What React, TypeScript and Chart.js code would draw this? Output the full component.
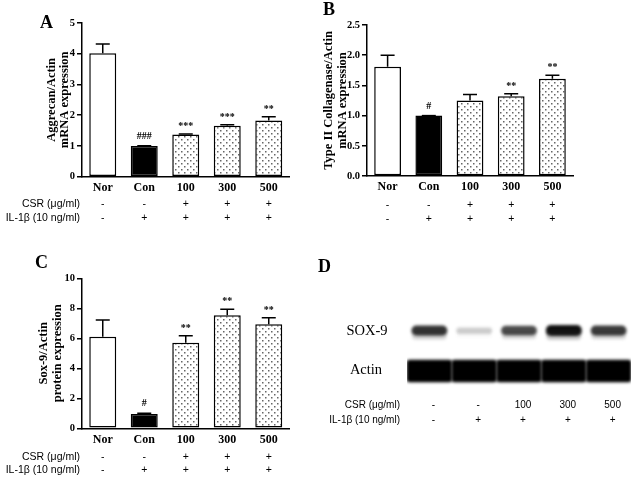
import React, { useEffect, useRef } from 'react';
import { Chart, registerables } from 'chart.js';

Chart.register(...registerables);

const SERIF = '"Liberation Serif", "Times New Roman", serif';
const SANS = '"Liberation Sans", Arial, sans-serif';

// ---- data ----
const groups = ['Nor', 'Con', '100', '300', '500'];
const csrSigns = ['-', '-', '+', '+', '+'];
const ilSigns = ['-', '+', '+', '+', '+'];

const aggrecanMean = [4.02, 1.0, 1.37, 1.66, 1.83];
const aggrecanSem = [0.3, 0.01, 0.02, 0.03, 0.12];
const aggrecanSig = ['', '###', '***', '***', '**'];

const col2Mean = [1.81, 1.0, 1.25, 1.32, 1.61];
const col2Sem = [0.19, 0.0, 0.1, 0.04, 0.06];
const col2Sig = ['', '#', '', '**', '**'];

const sox9Mean = [6.1, 0.95, 5.7, 7.53, 6.93];
const sox9Sem = [1.12, 0.05, 0.47, 0.4, 0.44];
const sox9Sig = ['', '#', '**', '**', '**'];

const blotCsr = ['-', '-', '100', '300', '500'];
const blotIl = ['-', '+', '+', '+', '+'];
const sox9Band = [0.85, 0.2, 0.75, 1.0, 0.82];
const actinBand = [1, 1, 1, 1, 1];

function makeDots(): CanvasPattern | string {
  const c = document.createElement('canvas');
  c.width = 6;
  c.height = 6;
  const g = c.getContext('2d');
  if (!g) return '#ddd';
  g.fillStyle = '#fff';
  g.fillRect(0, 0, 6, 6);
  g.fillStyle = '#666';
  g.fillRect(1, 1, 1.5, 1.5);
  g.fillRect(4, 4, 1.5, 1.5);
  return g.createPattern(c, 'repeat') || '#ddd';
}

type BarCfg = {
  padTop: number;
  padRight: number;
  yWidth: number;
  xHeight: number;
  max: number;
  step: number;
  decimals: number;
  mean: number[];
  sem: number[];
  sig: string[];
  title: string[];
  titlePad: number;
  letter: string;
  letterX: number;
  letterY: number;
  rowY: [number, number];
  rowLabels: boolean;
};

function barConfig(cfg: BarCfg): any {
  const dots = makeDots();
  const annot = {
    id: 'annot',
    afterDatasetsDraw(chart: any) {
      const ctx = chart.ctx;
      const ys = chart.scales.y;
      const meta = chart.getDatasetMeta(0);
      ctx.save();
      ctx.strokeStyle = '#000';
      ctx.lineWidth = 1.5;
      ctx.fillStyle = '#000';
      cfg.mean.forEach((v, i) => {
        const x = meta.data[i].x;
        const y0 = ys.getPixelForValue(v);
        const y1 = ys.getPixelForValue(v + cfg.sem[i]);
        ctx.beginPath();
        ctx.moveTo(x, y0);
        ctx.lineTo(x, y1);
        ctx.moveTo(x - 7, y1);
        ctx.lineTo(x + 7, y1);
        ctx.stroke();
        const s = cfg.sig[i];
        if (s) {
          ctx.font = `bold 10px ${SERIF}`;
          ctx.textAlign = 'center';
          ctx.textBaseline = 'alphabetic';
          const off = s[0] === '#' ? 7 : 5;
          ctx.fillText(s, x, y1 - off);
        }
      });
      ctx.restore();
    },
    afterDraw(chart: any) {
      const ctx = chart.ctx;
      const xs = chart.scales.x;
      ctx.save();
      ctx.fillStyle = '#000';
      ctx.font = `bold 18px ${SERIF}`;
      ctx.textAlign = 'left';
      ctx.textBaseline = 'alphabetic';
      ctx.fillText(cfg.letter, cfg.letterX, cfg.letterY);
      ctx.font = `10.5px ${SANS}`;
      ctx.textAlign = 'center';
      ctx.textBaseline = 'middle';
      groups.forEach((_, i) => {
        const x = xs.getPixelForValue(i);
        ctx.fillText(csrSigns[i], x, cfg.rowY[0]);
        ctx.fillText(ilSigns[i], x, cfg.rowY[1]);
      });
      if (cfg.rowLabels) {
        ctx.textAlign = 'right';
        ctx.fillText('CSR (\u03bcg/ml)', 80, cfg.rowY[0]);
        ctx.fillText('IL-1\u03b2 (10 ng/ml)', 80, cfg.rowY[1]);
      }
      ctx.restore();
    },
  };
  return {
    type: 'bar',
    data: {
      labels: groups,
      datasets: [
        {
          data: cfg.mean,
          backgroundColor: ['#fff', '#000', dots, dots, dots],
          borderColor: '#000',
          borderWidth: 1.5,
          borderSkipped: false,
          barPercentage: 0.65,
          categoryPercentage: 1.0,
        },
      ],
    },
    options: {
      responsive: true,
      maintainAspectRatio: false,
      animation: false,
      layout: { padding: { top: cfg.padTop, right: cfg.padRight, left: 0, bottom: 0 } },
      plugins: { legend: { display: false }, tooltip: { enabled: false } },
      scales: {
        x: {
          offset: true,
          grid: { display: true, drawOnChartArea: false, drawTicks: false },
          border: { display: true, color: '#000', width: 1.5 },
          ticks: {
            color: '#000',
            font: { family: SERIF, weight: 'bold', size: 12 },
            padding: 4,
            maxRotation: 0,
            autoSkip: false,
          },
          afterFit: (s: any) => {
            s.height = cfg.xHeight;
          },
        },
        y: {
          min: 0,
          max: cfg.max,
          grid: {
            display: true,
            drawOnChartArea: false,
            drawTicks: true,
            tickLength: 5,
            color: '#000',
            lineWidth: 1.5,
          },
          border: { display: true, color: '#000', width: 1.5 },
          ticks: {
            stepSize: cfg.step,
            color: '#000',
            font: { family: SERIF, weight: 'bold', size: 10.5 },
            padding: 2,
            callback: (v: any) => Number(v).toFixed(cfg.decimals),
          },
          title: {
            display: true,
            text: cfg.title,
            color: '#000',
            font: { family: SERIF, weight: 'bold', size: 12.5, lineHeight: 1.08 },
            padding: { top: cfg.titlePad, bottom: 0 },
          },
          afterFit: (s: any) => {
            s.width = cfg.yWidth;
          },
        },
      },
    },
    plugins: [annot],
  };
}

function blotConfig(): any {
  const blur = {
    id: 'blur',
    beforeDatasetsDraw(chart: any) {
      chart.ctx.save();
      chart.ctx.filter = 'blur(1.6px)';
    },
    afterDatasetsDraw(chart: any) {
      chart.ctx.restore();
    },
  };
  const text = {
    id: 'blotText',
    afterDraw(chart: any) {
      const ctx = chart.ctx;
      const xs = chart.scales.x;
      const ys = chart.scales.y;
      ctx.save();
      ctx.fillStyle = '#000';
      ctx.font = `bold 18px ${SERIF}`;
      ctx.textAlign = 'left';
      ctx.textBaseline = 'alphabetic';
      ctx.fillText('D', 8, 32);
      ctx.font = `14.5px ${SERIF}`;
      ctx.textAlign = 'center';
      ctx.textBaseline = 'middle';
      ctx.fillText('SOX-9', 57, ys.getPixelForValue(69));
      ctx.fillText('Actin', 56, ys.getPixelForValue(30));
      ctx.font = `10px ${SANS}`;
      ctx.textAlign = 'right';
      ctx.fillText('CSR (\u03bcg/ml)', 90, 165);
      ctx.fillText('IL-1\u03b2 (10 ng/ml)', 90, 180);
      ctx.textAlign = 'center';
      blotCsr.forEach((t, i) => {
        const x = xs.getPixelForValue(i) + 4;
        ctx.fillText(t, x, 165);
        ctx.fillText(blotIl[i], x, 180);
      });
      ctx.restore();
    },
  };
  return {
    type: 'bar',
    data: {
      labels: blotCsr.map((_, i) => String(i)),
      datasets: [
        {
          label: 'SOX-9 smear',
          data: sox9Band.map((v) => [69 - (5 + 4 * v), 69]),
          backgroundColor: sox9Band.map((v) => `rgba(40,40,40,${0.25 * v})`),
          borderWidth: 0,
          borderRadius: 4,
          borderSkipped: false,
          barPercentage: 0.78,
          categoryPercentage: 1.0,
          grouped: false,
        },
        {
          label: 'SOX-9',
          data: sox9Band.map((v) => [69 - (2 + 3 * v), 69 + (3 + 3 * v)]),
          backgroundColor: sox9Band.map((v) => `rgba(15,15,15,${v})`),
          borderWidth: 0,
          borderRadius: 5,
          borderSkipped: false,
          barPercentage: 0.8,
          categoryPercentage: 1.0,
          grouped: false,
        },
        {
          label: 'Actin',
          data: actinBand.map((v) => [29 - 11 * v, 29 + 11 * v]),
          backgroundColor: actinBand.map((v) => `rgba(0,0,0,${v})`),
          borderWidth: 0,
          borderRadius: 3,
          borderSkipped: false,
          barPercentage: 1.0,
          categoryPercentage: 1.0,
          grouped: false,
        },
      ],
    },
    options: {
      responsive: true,
      maintainAspectRatio: false,
      animation: false,
      layout: { padding: { top: 60, right: 2, left: 97, bottom: 78 } },
      plugins: { legend: { display: false }, tooltip: { enabled: false } },
      scales: {
        x: { display: false, offset: true },
        y: { display: false, min: 0, max: 100 },
      },
    },
    plugins: [blur, text],
  };
}

function Panel(props: { left: number; top: number; w: number; h: number; make: () => any }) {
  const ref = useRef<HTMLCanvasElement | null>(null);
  useEffect(() => {
    if (!ref.current) return;
    const chart = new Chart(ref.current, props.make());
    return () => chart.destroy();
  }, []);
  return (
    <div style={{ position: 'absolute', left: props.left, top: props.top, width: props.w, height: props.h }}>
      <canvas ref={ref} />
    </div>
  );
}

export default function App() {
  return (
    <div style={{ position: 'absolute', left: 0, top: 0, width: 633, height: 478, background: '#fff', overflow: 'hidden' }}>
      <Panel
        left={0}
        top={0}
        w={310}
        h={240}
        make={() =>
          barConfig({
            padTop: 23,
            padRight: 20.5,
            yWidth: 82,
            xHeight: 63.3,
            max: 5,
            step: 1,
            decimals: 0,
            mean: aggrecanMean,
            sem: aggrecanSem,
            sig: aggrecanSig,
            title: ['Aggrecan/Actin', 'mRNA expression'],
            titlePad: 45,
            letter: 'A',
            letterX: 40,
            letterY: 28,
            rowY: [204, 218],
            rowLabels: true,
          })
        }
      />
      <Panel
        left={310}
        top={0}
        w={323}
        h={240}
        make={() =>
          barConfig({
            padTop: 25,
            padRight: 60,
            yWidth: 57,
            xHeight: 64,
            max: 2.5,
            step: 0.5,
            decimals: 1,
            mean: col2Mean,
            sem: col2Sem,
            sig: col2Sig,
            title: ['Type II Collagenase/Actin', 'mRNA expression'],
            titlePad: 12.5,
            letter: 'B',
            letterX: 13,
            letterY: 15,
            rowY: [205, 219],
            rowLabels: false,
          })
        }
      />
      <Panel
        left={0}
        top={240}
        w={310}
        h={238}
        make={() =>
          barConfig({
            padTop: 38.3,
            padRight: 20.5,
            yWidth: 82,
            xHeight: 49.7,
            max: 10,
            step: 2,
            decimals: 0,
            mean: sox9Mean,
            sem: sox9Sem,
            sig: sox9Sig,
            title: ['Sox-9/Actin', 'protein expression'],
            titlePad: 37.5,
            letter: 'C',
            letterX: 35,
            letterY: 28,
            rowY: [217, 230],
            rowLabels: true,
          })
        }
      />
      <Panel left={310} top={240} w={323} h={238} make={blotConfig} />
    </div>
  );
}
